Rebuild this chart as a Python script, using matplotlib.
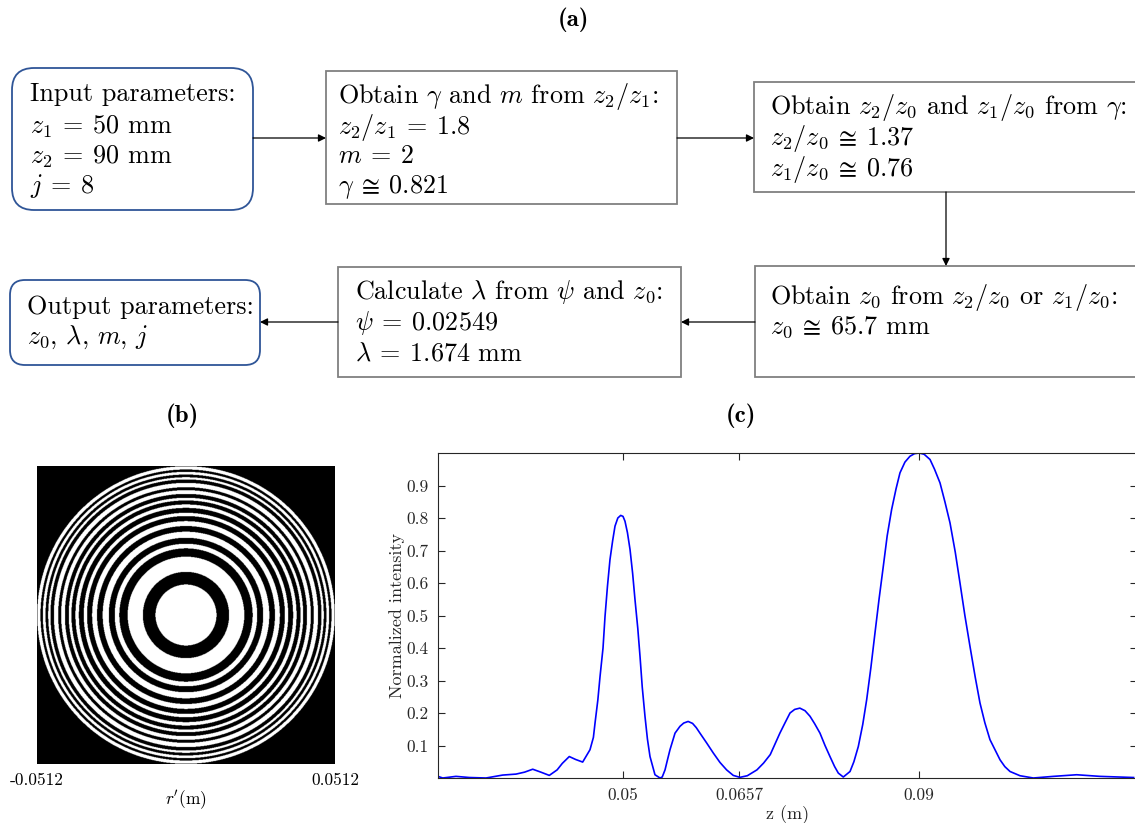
import numpy as np
import matplotlib
matplotlib.use('Agg')
import matplotlib.pyplot as plt
from matplotlib.patches import FancyBboxPatch, Rectangle

plt.rcParams['font.family'] = ['cmr10', 'DejaVu Serif']
plt.rcParams['mathtext.fontset'] = 'cm'
plt.rcParams['axes.unicode_minus'] = False
plt.rcParams['axes.formatter.use_mathtext'] = True

# ---------------- data ----------------
# (a) flowchart texts
box_input = ["Input parameters:", r"$z_1 \:=\: 50$ mm", r"$z_2 \:=\: 90$ mm", r"$j \:=\: 8$"]
box_gamma = [r"Obtain $\gamma$ and $m$ from $z_2/z_1$:", r"$z_2/z_1 \:=\: 1.8$", r"$m \:=\: 2$",
             r"$\gamma \:\cong\: 0.821$"]
box_ratio = [r"Obtain $z_2/z_0$ and $z_1/z_0$ from $\gamma$:", r"$z_2/z_0 \:\cong\: 1.37$",
             r"$z_1/z_0 \:\cong\: 0.76$"]
box_z0 = [r"Obtain $z_0$ from $z_2/z_0$ or $z_1/z_0$:", r"$z_0 \:\cong\: 65.7$ mm"]
box_lambda = [r"Calculate $\lambda$ from $\psi$ and $z_0$:", r"$\psi \:=\: 0.02549$",
              r"$\lambda \:=\: 1.674$ mm"]
box_output = ["Output parameters:", r"$z_0$, $\lambda$, $m$, $j$"]

# (b) zone plate: opaque ring edges, as fraction of aperture radius
r_max = 0.0512
ring_inner = [0.205, 0.392, 0.479, 0.560, 0.631, 0.687, 0.743, 0.788, 0.839, 0.888, 0.926, 0.962]
ring_outer = [0.290, 0.448, 0.519, 0.598, 0.665, 0.720, 0.770, 0.814, 0.859, 0.911, 0.944, 0.978]
b_ticks = [-0.0512, 0.0512]
b_ticklabels = ["-0.0512", "0.0512"]

# (c) axial intensity
z_vals = [0.02473, 0.02564, 0.02743, 0.02923, 0.03149, 0.03374, 0.03554, 0.0367, 0.0378,
          0.0389, 0.04004, 0.0411, 0.0418, 0.04274, 0.0436, 0.04455, 0.04554, 0.0460,
          0.04622, 0.0466, 0.0469, 0.0473, 0.04757, 0.0479, 0.04824, 0.0486, 0.04892,
          0.0493, 0.04969, 0.0500, 0.05027, 0.0506, 0.05095, 0.0513, 0.05162, 0.0520,
          0.0523, 0.0526, 0.05297, 0.0533, 0.05365, 0.05432, 0.055, 0.0553, 0.05568,
          0.0560, 0.05635, 0.05703, 0.0577, 0.0582, 0.0588, 0.0594, 0.0599, 0.0604,
          0.0613, 0.0622, 0.0631, 0.064, 0.0649, 0.0658, 0.0668, 0.0681, 0.0690, 0.0699,
          0.0712, 0.0719, 0.07257, 0.0732, 0.0739, 0.0746, 0.07527, 0.0759, 0.07662,
          0.0773, 0.07797, 0.0786, 0.0791, 0.07977, 0.08068, 0.0812, 0.0818, 0.0824,
          0.08293, 0.0835, 0.08405, 0.0846, 0.08518, 0.0857, 0.0863, 0.0869, 0.08743,
          0.0881, 0.08878, 0.0894, 0.09004, 0.0907, 0.09149, 0.0921, 0.09284, 0.0935,
          0.09419, 0.0949, 0.09554, 0.0962, 0.09689, 0.0976, 0.09824, 0.0989, 0.09959,
          0.10095, 0.1016, 0.1023, 0.10365, 0.10545, 0.10815, 0.11131, 0.11446, 0.119]
intensity = [0.007, 0.000, 0.005, 0.0015, 0.000, 0.009, 0.012, 0.018, 0.027,
             0.018, 0.008, 0.025, 0.045, 0.066, 0.057, 0.049, 0.087, 0.125,
             0.169, 0.240, 0.313, 0.400, 0.497, 0.590, 0.672, 0.730, 0.775,
             0.800, 0.808, 0.805, 0.790, 0.755, 0.703, 0.630, 0.549, 0.460,
             0.374, 0.280, 0.190, 0.120, 0.066, 0.010, 0.000, 0.003, 0.025,
             0.055, 0.087, 0.138, 0.159, 0.169, 0.174, 0.168, 0.155, 0.138,
             0.108, 0.077, 0.048, 0.025, 0.008, 0.002, 0.007, 0.025, 0.046, 0.072,
             0.138, 0.170, 0.200, 0.211, 0.215, 0.207, 0.190, 0.167, 0.138,
             0.100, 0.066, 0.035, 0.015, 0.003, 0.020, 0.050, 0.097, 0.165,
             0.241, 0.340, 0.446, 0.550, 0.652, 0.745, 0.826, 0.890, 0.939,
             0.972, 0.990, 0.998, 1.000, 0.996, 0.980, 0.950, 0.908, 0.850,
             0.785, 0.695, 0.600, 0.500, 0.405, 0.310, 0.231, 0.170, 0.118,
             0.056, 0.035, 0.020, 0.007, 0.000, 0.005, 0.010, 0.005, 0.0015]
c_xticks = [0.05, 0.0657, 0.09]
c_xticklabels = ["0.05", "0.0657", "0.09"]
c_yticks = [0.1, 0.2, 0.3, 0.4, 0.5, 0.6, 0.7, 0.8, 0.9]
c_yticklabels = ["0.1", "0.2", "0.3", "0.4", "0.5", "0.6", "0.7", "0.8", "0.9"]

# ---------------- figure ----------------
W, H = 1135, 823
fig = plt.figure(figsize=(W / 100, H / 100), dpi=100)

fa = fig.add_axes([0, 0, 1, 1])
fa.set_xlim(0, W)
fa.set_ylim(H, 0)
fa.axis('off')

FS = 18.8
blue_edge = '#2f5597'
gray_edge = '#808080'


def rounded(x0, y0, x1, y1, rad):
    p = FancyBboxPatch((x0 + rad, y0 + rad), (x1 - x0) - 2 * rad, (y1 - y0) - 2 * rad,
                       boxstyle="round,pad=%g" % rad, fc='white', ec=blue_edge, lw=1.3)
    fa.add_patch(p)


def rect(x0, y0, x1, y1):
    fa.add_patch(Rectangle((x0, y0), x1 - x0, y1 - y0, fc='white', ec=gray_edge, lw=1.3))


def lines(x, baselines, texts):
    for yb, t in zip(baselines, texts):
        fa.text(x, yb, t, fontsize=FS, va='baseline', ha='left', color='black')


def arrow(x0, y0, x1, y1):
    fa.annotate('', xy=(x1, y1), xytext=(x0, y0),
                arrowprops=dict(arrowstyle='-|>', color='black', lw=0.9,
                                mutation_scale=11, shrinkA=0, shrinkB=0))


rounded(12, 68, 253, 210, 22)
rect(326, 71, 677, 204)
rect(754, 82, 1145, 192)
rect(755, 266, 1145, 377)
rect(338, 267, 681, 377)
rounded(10, 280, 260, 365, 15)

lines(30, [101, 134, 164, 193], box_input)
lines(338, [103, 134, 163, 193], box_gamma)
lines(770, [114, 145, 176], box_ratio)
lines(770, [304, 334], box_z0)
lines(355, [299, 330, 360], box_lambda)
lines(27, [314, 344], box_output)

arrow(253, 138, 326, 138)
arrow(677, 138, 754, 138)
arrow(946, 192, 946, 266)
arrow(755, 322, 681, 322)
arrow(338, 322, 260, 322)

for (tx, ty, lab) in [(573, 20, "(a)"), (182, 416, "(b)"), (741, 416, "(c)")]:
    fa.text(tx, ty, lab, fontsize=18, family='cmb10', ha='center', va='center')

# ---------------- (b) ----------------
axb = fig.add_axes([37 / W, (H - 764) / H, 298 / W, 298 / H])
n = 700
g = np.linspace(-1, 1, n)
X, Y = np.meshgrid(g, g)
R = np.sqrt(X ** 2 + Y ** 2)
img = (R <= 1.0).astype(float)
for a, b in zip(ring_inner, ring_outer):
    img[(R >= a) & (R < b)] = 0.0
axb.imshow(img, cmap='gray', vmin=0, vmax=1, extent=[-r_max, r_max, -r_max, r_max],
           interpolation='antialiased', origin='lower')
axb.set_xticks(b_ticks)
axb.set_xticklabels(b_ticklabels, fontsize=12.5)
axb.set_yticks([])
axb.tick_params(axis='x', length=0, pad=6)
for s in axb.spines.values():
    s.set_visible(False)
axb.set_xlabel(r"$r'$(m)", fontsize=12.5)
axb.xaxis.set_label_coords(0.5, -(800 - 764) / 298)
axb.xaxis.label.set_va('center')

# ---------------- (c) ----------------
axc = fig.add_axes([438 / W, (H - 778) / H, 699 / W, 325 / H])
axc.plot(z_vals, intensity, color='#0000ff', lw=1.2)
axc.set_xlim(0.025, 0.11946)
axc.set_ylim(0, 1)
axc.set_xticks(c_xticks)
axc.set_xticklabels(c_xticklabels)
axc.set_yticks(c_yticks)
axc.set_yticklabels(c_yticklabels)
axc.tick_params(direction='in', top=True, right=True, length=5, width=0.8,
                color='#262626', labelsize=12.5, labelcolor='#262626', pad=7)
for s in axc.spines.values():
    s.set_color('#262626')
    s.set_linewidth(0.8)
axc.set_ylabel("Normalized intensity", fontsize=13, color='#262626')
axc.yaxis.set_label_coords((397 - 438) / 699, 0.5)
axc.set_xlabel("z (m)", fontsize=13, color='#262626')
axc.xaxis.set_label_coords(0.5, -(815 - 778) / 325)
axc.xaxis.label.set_va('center')
axc.yaxis.label.set_va('center')

fig.savefig('out.png', dpi=100)
